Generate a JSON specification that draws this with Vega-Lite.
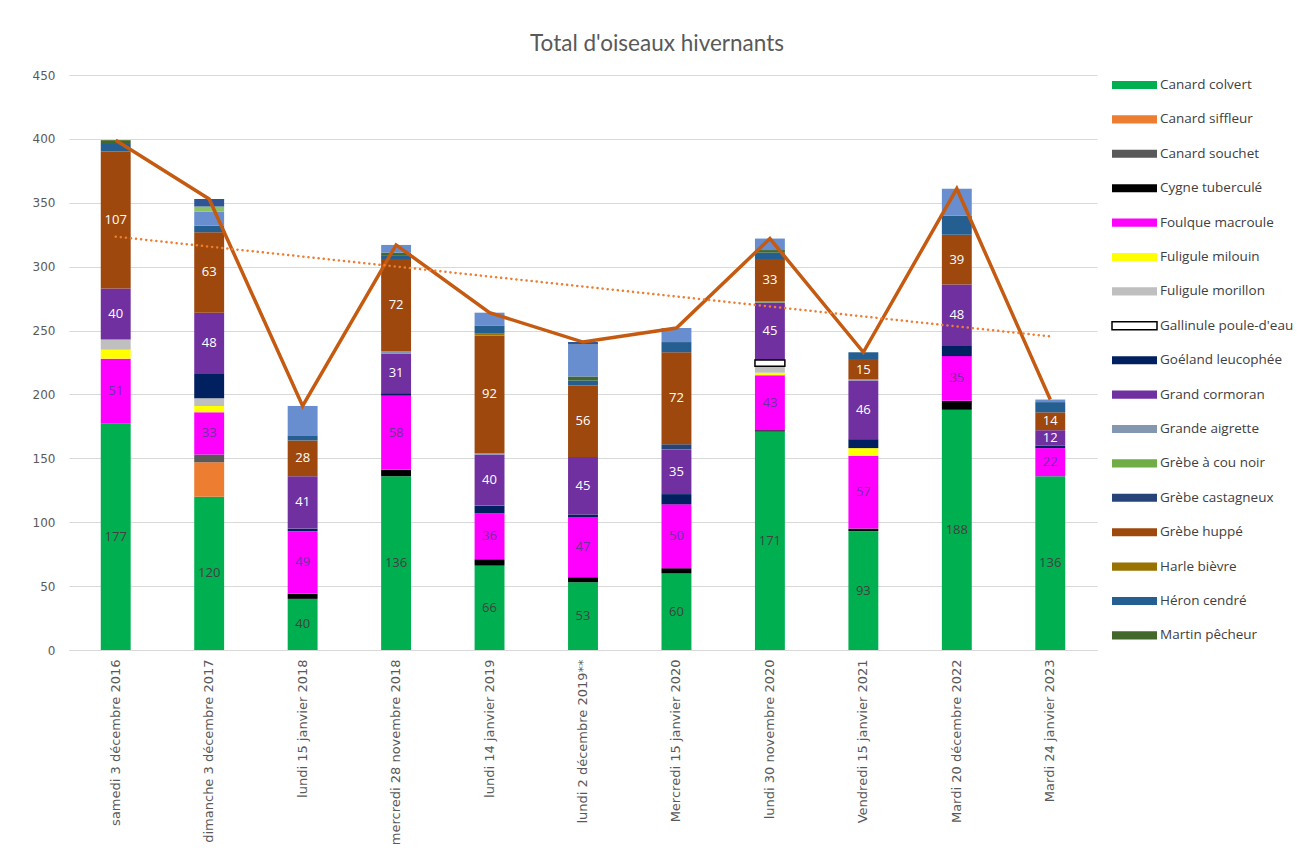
{
  "$schema": "https://vega.github.io/schema/vega-lite/v6.json",
  "autosize": "none",
  "width": 1028,
  "height": 575,
  "padding": {"left": 69, "top": 75, "right": 200, "bottom": 200},
  "background": "white",
  "config": {
    "view": {"stroke": null},
    "font": "Open Sans",
    "axisY": {"grid": true, "gridColor": "#D9D9D9", "gridWidth": 1, "domain": false, "ticks": false, "labelFont": "DejaVu Sans", "labelFontSize": 12, "labelColor": "#595959", "labelPadding": 14, "title": null}
  },
  "title": {"text": "Total d'oiseaux hivernants", "font": "Lato", "fontSize": 22.5, "fontWeight": 400, "color": "#595959", "anchor": "middle", "dx": 74, "offset": 14},
  "datasets": {
    "dates": [
      {"n": 1, "date": "samedi 3 décembre 2016"},
      {"n": 2, "date": "dimanche 3 décembre 2017"},
      {"n": 3, "date": "lundi 15 janvier 2018"},
      {"n": 4, "date": "mercredi 28 novembre 2018"},
      {"n": 5, "date": "lundi 14 janvier 2019"},
      {"n": 6, "date": "lundi 2 décembre 2019**"},
      {"n": 7, "date": "Mercredi 15 janvier 2020"},
      {"n": 8, "date": "lundi 30 novembre 2020"},
      {"n": 9, "date": "Vendredi 15 janvier 2021"},
      {"n": 10, "date": "Mardi 20 décembre 2022"},
      {"n": 11, "date": "Mardi 24 janvier 2023"}
    ],
    "especes": [
      {"ordre": 1, "species": "Canard colvert"},
      {"ordre": 2, "species": "Canard siffleur"},
      {"ordre": 3, "species": "Canard souchet"},
      {"ordre": 4, "species": "Cygne tuberculé"},
      {"ordre": 5, "species": "Foulque macroule"},
      {"ordre": 6, "species": "Fuligule milouin"},
      {"ordre": 7, "species": "Fuligule morillon"},
      {"ordre": 8, "species": "Gallinule poule-d'eau"},
      {"ordre": 9, "species": "Goéland leucophée"},
      {"ordre": 10, "species": "Grand cormoran"},
      {"ordre": 11, "species": "Grande aigrette"},
      {"ordre": 12, "species": "Grèbe à cou noir"},
      {"ordre": 13, "species": "Grèbe castagneux"},
      {"ordre": 14, "species": "Grèbe huppé"},
      {"ordre": 15, "species": "Harle bièvre"},
      {"ordre": 16, "species": "Héron cendré"},
      {"ordre": 17, "species": "Martin pêcheur"},
      {"ordre": 18, "species": "Autre espèce 1"},
      {"ordre": 19, "species": "Autre espèce 2"},
      {"ordre": 20, "species": "Autre espèce 3"}
    ],
    "birds": [
      {"date": "samedi 3 décembre 2016", "species": "Canard colvert", "count": 177},
      {"date": "samedi 3 décembre 2016", "species": "Foulque macroule", "count": 51},
      {"date": "samedi 3 décembre 2016", "species": "Fuligule milouin", "count": 7},
      {"date": "samedi 3 décembre 2016", "species": "Fuligule morillon", "count": 8},
      {"date": "samedi 3 décembre 2016", "species": "Grand cormoran", "count": 40},
      {"date": "samedi 3 décembre 2016", "species": "Grèbe huppé", "count": 107},
      {"date": "samedi 3 décembre 2016", "species": "Héron cendré", "count": 6},
      {"date": "samedi 3 décembre 2016", "species": "Martin pêcheur", "count": 3},

      {"date": "dimanche 3 décembre 2017", "species": "Canard colvert", "count": 120},
      {"date": "dimanche 3 décembre 2017", "species": "Canard siffleur", "count": 27},
      {"date": "dimanche 3 décembre 2017", "species": "Canard souchet", "count": 6},
      {"date": "dimanche 3 décembre 2017", "species": "Foulque macroule", "count": 33},
      {"date": "dimanche 3 décembre 2017", "species": "Fuligule milouin", "count": 5},
      {"date": "dimanche 3 décembre 2017", "species": "Fuligule morillon", "count": 6},
      {"date": "dimanche 3 décembre 2017", "species": "Goéland leucophée", "count": 19},
      {"date": "dimanche 3 décembre 2017", "species": "Grand cormoran", "count": 48},
      {"date": "dimanche 3 décembre 2017", "species": "Grèbe huppé", "count": 63},
      {"date": "dimanche 3 décembre 2017", "species": "Héron cendré", "count": 5},
      {"date": "dimanche 3 décembre 2017", "species": "Autre espèce 1", "count": 11},
      {"date": "dimanche 3 décembre 2017", "species": "Autre espèce 2", "count": 4},
      {"date": "dimanche 3 décembre 2017", "species": "Autre espèce 3", "count": 6},

      {"date": "lundi 15 janvier 2018", "species": "Canard colvert", "count": 40},
      {"date": "lundi 15 janvier 2018", "species": "Cygne tuberculé", "count": 4},
      {"date": "lundi 15 janvier 2018", "species": "Foulque macroule", "count": 49},
      {"date": "lundi 15 janvier 2018", "species": "Goéland leucophée", "count": 2},
      {"date": "lundi 15 janvier 2018", "species": "Grand cormoran", "count": 41},
      {"date": "lundi 15 janvier 2018", "species": "Grèbe huppé", "count": 28},
      {"date": "lundi 15 janvier 2018", "species": "Héron cendré", "count": 4},
      {"date": "lundi 15 janvier 2018", "species": "Autre espèce 1", "count": 23},

      {"date": "mercredi 28 novembre 2018", "species": "Canard colvert", "count": 136},
      {"date": "mercredi 28 novembre 2018", "species": "Cygne tuberculé", "count": 5},
      {"date": "mercredi 28 novembre 2018", "species": "Foulque macroule", "count": 58},
      {"date": "mercredi 28 novembre 2018", "species": "Goéland leucophée", "count": 2},
      {"date": "mercredi 28 novembre 2018", "species": "Grand cormoran", "count": 31},
      {"date": "mercredi 28 novembre 2018", "species": "Grande aigrette", "count": 2},
      {"date": "mercredi 28 novembre 2018", "species": "Grèbe huppé", "count": 72},
      {"date": "mercredi 28 novembre 2018", "species": "Héron cendré", "count": 3},
      {"date": "mercredi 28 novembre 2018", "species": "Martin pêcheur", "count": 2},
      {"date": "mercredi 28 novembre 2018", "species": "Autre espèce 1", "count": 6},

      {"date": "lundi 14 janvier 2019", "species": "Canard colvert", "count": 66},
      {"date": "lundi 14 janvier 2019", "species": "Cygne tuberculé", "count": 5},
      {"date": "lundi 14 janvier 2019", "species": "Foulque macroule", "count": 36},
      {"date": "lundi 14 janvier 2019", "species": "Goéland leucophée", "count": 6},
      {"date": "lundi 14 janvier 2019", "species": "Grand cormoran", "count": 40},
      {"date": "lundi 14 janvier 2019", "species": "Grande aigrette", "count": 1},
      {"date": "lundi 14 janvier 2019", "species": "Grèbe huppé", "count": 92},
      {"date": "lundi 14 janvier 2019", "species": "Harle bièvre", "count": 2},
      {"date": "lundi 14 janvier 2019", "species": "Héron cendré", "count": 6},
      {"date": "lundi 14 janvier 2019", "species": "Autre espèce 1", "count": 10},

      {"date": "lundi 2 décembre 2019**", "species": "Canard colvert", "count": 53},
      {"date": "lundi 2 décembre 2019**", "species": "Cygne tuberculé", "count": 4},
      {"date": "lundi 2 décembre 2019**", "species": "Foulque macroule", "count": 47},
      {"date": "lundi 2 décembre 2019**", "species": "Goéland leucophée", "count": 2},
      {"date": "lundi 2 décembre 2019**", "species": "Grand cormoran", "count": 45},
      {"date": "lundi 2 décembre 2019**", "species": "Grèbe huppé", "count": 56},
      {"date": "lundi 2 décembre 2019**", "species": "Héron cendré", "count": 4},
      {"date": "lundi 2 décembre 2019**", "species": "Martin pêcheur", "count": 3},
      {"date": "lundi 2 décembre 2019**", "species": "Autre espèce 1", "count": 25},
      {"date": "lundi 2 décembre 2019**", "species": "Autre espèce 3", "count": 2},

      {"date": "Mercredi 15 janvier 2020", "species": "Canard colvert", "count": 60},
      {"date": "Mercredi 15 janvier 2020", "species": "Cygne tuberculé", "count": 4},
      {"date": "Mercredi 15 janvier 2020", "species": "Foulque macroule", "count": 50},
      {"date": "Mercredi 15 janvier 2020", "species": "Goéland leucophée", "count": 8},
      {"date": "Mercredi 15 janvier 2020", "species": "Grand cormoran", "count": 35},
      {"date": "Mercredi 15 janvier 2020", "species": "Grèbe castagneux", "count": 4},
      {"date": "Mercredi 15 janvier 2020", "species": "Grèbe huppé", "count": 72},
      {"date": "Mercredi 15 janvier 2020", "species": "Héron cendré", "count": 8},
      {"date": "Mercredi 15 janvier 2020", "species": "Autre espèce 1", "count": 11},

      {"date": "lundi 30 novembre 2020", "species": "Canard colvert", "count": 171},
      {"date": "lundi 30 novembre 2020", "species": "Cygne tuberculé", "count": 1},
      {"date": "lundi 30 novembre 2020", "species": "Foulque macroule", "count": 43},
      {"date": "lundi 30 novembre 2020", "species": "Fuligule milouin", "count": 2},
      {"date": "lundi 30 novembre 2020", "species": "Fuligule morillon", "count": 5},
      {"date": "lundi 30 novembre 2020", "species": "Gallinule poule-d'eau", "count": 5},
      {"date": "lundi 30 novembre 2020", "species": "Grand cormoran", "count": 45},
      {"date": "lundi 30 novembre 2020", "species": "Grèbe à cou noir", "count": 1},
      {"date": "lundi 30 novembre 2020", "species": "Grèbe huppé", "count": 33},
      {"date": "lundi 30 novembre 2020", "species": "Héron cendré", "count": 5},
      {"date": "lundi 30 novembre 2020", "species": "Martin pêcheur", "count": 2},
      {"date": "lundi 30 novembre 2020", "species": "Autre espèce 1", "count": 9},

      {"date": "Vendredi 15 janvier 2021", "species": "Canard colvert", "count": 93},
      {"date": "Vendredi 15 janvier 2021", "species": "Cygne tuberculé", "count": 2},
      {"date": "Vendredi 15 janvier 2021", "species": "Foulque macroule", "count": 57},
      {"date": "Vendredi 15 janvier 2021", "species": "Fuligule milouin", "count": 6},
      {"date": "Vendredi 15 janvier 2021", "species": "Goéland leucophée", "count": 7},
      {"date": "Vendredi 15 janvier 2021", "species": "Grand cormoran", "count": 46},
      {"date": "Vendredi 15 janvier 2021", "species": "Grande aigrette", "count": 1},
      {"date": "Vendredi 15 janvier 2021", "species": "Grèbe huppé", "count": 15},
      {"date": "Vendredi 15 janvier 2021", "species": "Héron cendré", "count": 6},

      {"date": "Mardi 20 décembre 2022", "species": "Canard colvert", "count": 188},
      {"date": "Mardi 20 décembre 2022", "species": "Cygne tuberculé", "count": 7},
      {"date": "Mardi 20 décembre 2022", "species": "Foulque macroule", "count": 35},
      {"date": "Mardi 20 décembre 2022", "species": "Goéland leucophée", "count": 8},
      {"date": "Mardi 20 décembre 2022", "species": "Grand cormoran", "count": 48},
      {"date": "Mardi 20 décembre 2022", "species": "Grèbe huppé", "count": 39},
      {"date": "Mardi 20 décembre 2022", "species": "Héron cendré", "count": 15},
      {"date": "Mardi 20 décembre 2022", "species": "Autre espèce 1", "count": 21},

      {"date": "Mardi 24 janvier 2023", "species": "Canard colvert", "count": 136},
      {"date": "Mardi 24 janvier 2023", "species": "Foulque macroule", "count": 22},
      {"date": "Mardi 24 janvier 2023", "species": "Goéland leucophée", "count": 2},
      {"date": "Mardi 24 janvier 2023", "species": "Grand cormoran", "count": 12},
      {"date": "Mardi 24 janvier 2023", "species": "Grèbe huppé", "count": 14},
      {"date": "Mardi 24 janvier 2023", "species": "Héron cendré", "count": 8},
      {"date": "Mardi 24 janvier 2023", "species": "Autre espèce 1", "count": 2}
    ]
  },
  "data": {"name": "birds"},
  "encoding": {
    "x": {
      "field": "date",
      "type": "nominal",
      "sort": ["samedi 3 décembre 2016", "dimanche 3 décembre 2017", "lundi 15 janvier 2018", "mercredi 28 novembre 2018", "lundi 14 janvier 2019", "lundi 2 décembre 2019**", "Mercredi 15 janvier 2020", "lundi 30 novembre 2020", "Vendredi 15 janvier 2021", "Mardi 20 décembre 2022", "Mardi 24 janvier 2023"],
      "scale": {"paddingInner": 0.68, "paddingOuter": 0.34},
      "axis": {"title": null, "labelAngle": -90, "labelFont": "DejaVu Sans", "labelFontSize": 13, "labelColor": "#595959", "ticks": false, "domain": true, "domainColor": "#D9D9D9", "labelPadding": 9, "labelLimit": 300}
    }
  },
  "layer": [
    {
      "transform": [{"lookup": "species", "from": {"data": {"name": "especes"}, "key": "species", "fields": ["ordre"]}}],
      "mark": {"type": "bar"},
      "encoding": {
        "y": {"field": "count", "type": "quantitative", "stack": "zero", "title": null, "scale": {"domain": [0, 450]}, "axis": {"values": [0, 50, 100, 150, 200, 250, 300, 350, 400, 450]}},
        "order": {"field": "ordre", "type": "quantitative"},
        "color": {
          "field": "species",
          "type": "nominal",
          "scale": {
            "domain": ["Canard colvert", "Canard siffleur", "Canard souchet", "Cygne tuberculé", "Foulque macroule", "Fuligule milouin", "Fuligule morillon", "Gallinule poule-d'eau", "Goéland leucophée", "Grand cormoran", "Grande aigrette", "Grèbe à cou noir", "Grèbe castagneux", "Grèbe huppé", "Harle bièvre", "Héron cendré", "Martin pêcheur", "Autre espèce 1", "Autre espèce 2", "Autre espèce 3"],
            "range": ["#00B050", "#ED7D31", "#595959", "#000000", "#FF00FF", "#FFFF00", "#BFBFBF", "#FFFFFF", "#002060", "#7030A0", "#8497B0", "#70AD47", "#264478", "#9E480E", "#997300", "#255E91", "#43682B", "#698ED0", "#8CC168", "#2F5597"]
          },
          "legend": {
            "values": ["Canard colvert", "Canard siffleur", "Canard souchet", "Cygne tuberculé", "Foulque macroule", "Fuligule milouin", "Fuligule morillon", "Gallinule poule-d'eau", "Goéland leucophée", "Grand cormoran", "Grande aigrette", "Grèbe à cou noir", "Grèbe castagneux", "Grèbe huppé", "Harle bièvre", "Héron cendré", "Martin pêcheur"],
            "title": null,
            "orient": "none",
            "legendX": 1042,
            "legendY": 0,
            "padding": 0,
            "symbolType": "M-1,-0.45L4,-0.45L4,0.45L-1,0.45Z",
            "symbolSize": 324,
            "symbolOpacity": 1,
            "symbolStrokeColor": {"expr": "datum.value === \"Gallinule poule-d'eau\" ? '#000000' : 'transparent'"},
            "symbolStrokeWidth": 1.5,
            "labelFont": "Open Sans",
            "labelFontSize": 13.5,
            "labelColor": "#404040",
            "labelOffset": 29,
            "rowPadding": 16.4,
            "labelLimit": 400
          }
        }
      }
    },
    {
      "transform": [{"lookup": "species", "from": {"data": {"name": "especes"}, "key": "species", "fields": ["ordre"]}}],
      "mark": {"type": "bar", "fill": "transparent", "strokeWidth": 1.5},
      "encoding": {
        "y": {"field": "count", "type": "quantitative", "stack": "zero", "title": null},
        "detail": {"field": "species", "type": "nominal"},
        "order": {"field": "ordre", "type": "quantitative"},
        "stroke": {"condition": {"test": "datum.species === \"Gallinule poule-d'eau\"", "value": "#000000"}, "value": "transparent"}
      }
    },
    {
      "transform": [{"lookup": "species", "from": {"data": {"name": "especes"}, "key": "species", "fields": ["ordre"]}}],
      "mark": {"type": "text", "font": "Open Sans", "fontSize": 13, "baseline": "middle", "align": "center"},
      "encoding": {
        "y": {"field": "count", "type": "quantitative", "stack": "zero", "bandPosition": 0.5, "title": null},
        "detail": {"field": "species", "type": "nominal"},
        "order": {"field": "ordre", "type": "quantitative"},
        "text": {"condition": {"test": "indexof(['Canard colvert', 'Foulque macroule', 'Grand cormoran', 'Grèbe huppé'], datum.species) >= 0", "field": "count", "type": "quantitative"}, "value": ""},
        "color": {"condition": [{"test": "datum.species === 'Canard colvert'", "value": "#404040"}, {"test": "datum.species === 'Foulque macroule'", "value": "#7030A0"}], "value": "#FFFFFF"}
      }
    },
    {
      "transform": [{"aggregate": [{"op": "sum", "field": "count", "as": "total"}], "groupby": ["date"]}],
      "mark": {"type": "line", "color": "#C55A11", "strokeWidth": 3.5},
      "encoding": {"y": {"field": "total", "type": "quantitative", "title": null}}
    },
    {
      "transform": [
        {"aggregate": [{"op": "sum", "field": "count", "as": "total"}], "groupby": ["date"]},
        {"lookup": "date", "from": {"data": {"name": "dates"}, "key": "date", "fields": ["n"]}},
        {"regression": "total", "on": "n"},
        {"lookup": "n", "from": {"data": {"name": "dates"}, "key": "n", "fields": ["date"]}}
      ],
      "mark": {"type": "line", "color": "#ED7D31", "strokeWidth": 2.5, "strokeDash": [0.1, 5], "strokeCap": "round"},
      "encoding": {"y": {"field": "total", "type": "quantitative", "title": null}}
    }
  ]
}
